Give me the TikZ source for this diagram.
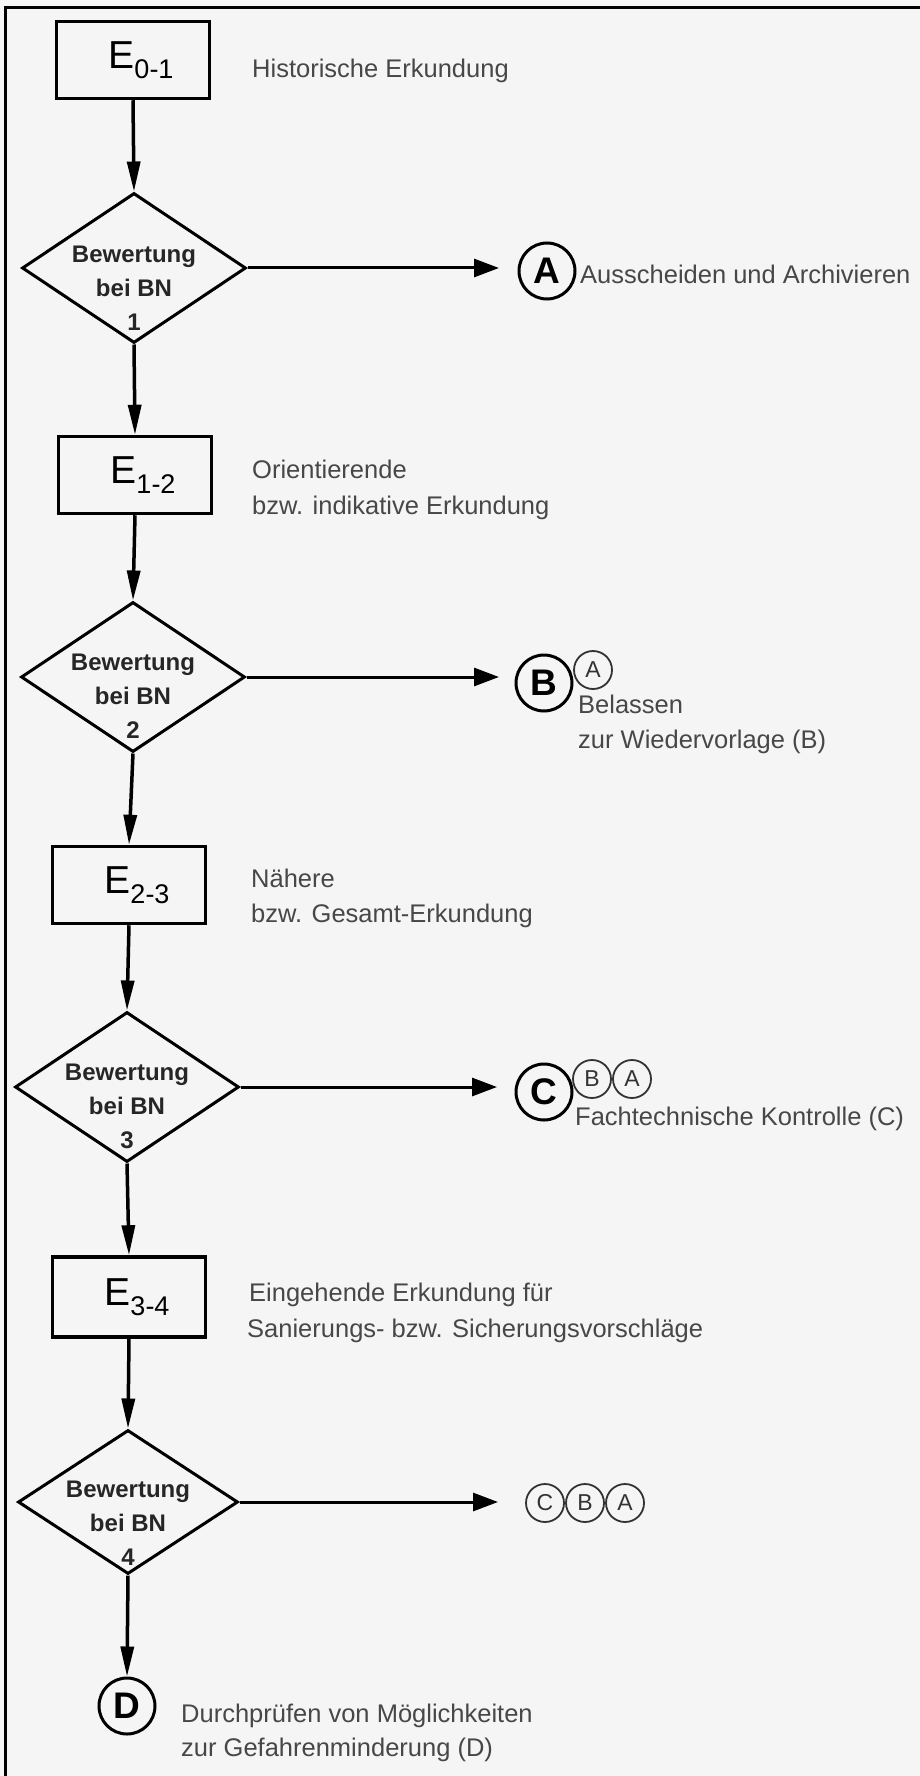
\documentclass[tikz,border=0pt]{standalone}
\usepackage{fontspec}
\setmainfont{Liberation Sans}
\usetikzlibrary{shapes.geometric,arrows.meta}
\newcommand\Elab[1]{{\fontsize{39}{39}\selectfont E}{\fontsize{27}{27}\selectfont\raisebox{-10pt}{#1}}}
\begin{document}
\begin{tikzpicture}[x=1pt,y=-1pt,
  ebox/.style={draw, line width=3.5pt, minimum width=153pt, minimum height=77pt, inner sep=0pt},
  dia/.style={diamond, draw, line width=3pt, minimum width=224pt, minimum height=150pt, inner sep=0pt},
  dtext/.style={align=center, inner sep=0pt, font=\fontsize{24}{34}\selectfont\bfseries, text=black!85},
  vflow/.style={line width=3.5pt, -{Triangle[length=30pt,width=13pt]}},
  hflow/.style={line width=3pt, -{Triangle[length=25pt,width=18pt]}},
  bigc/.style={circle, draw, line width=3pt, minimum size=56pt, inner sep=0pt, font=\fontsize{37}{37}\selectfont\bfseries},
  smallc/.style={circle, draw=black!80, line width=1.8pt, minimum size=38pt, inner sep=0pt, font=\fontsize{23}{23}\selectfont, text=black!80},
  desc/.style={anchor=base west, inner sep=0pt, font=\fontsize{25.5}{25.5}\selectfont, text=black!72}
]
\fill[black!4] (0,0) rectangle (920,1776);
\useasboundingbox (0,0) rectangle (920,1776);
\draw[line width=3pt] (920,8) -- (5,8) -- (5,1776);

% main column
\node[ebox] (e01) at (133,60) {\hspace*{16pt}\Elab{0-1}};
\node[dia] (d1) at (134,268) {};
\node[dtext] (d1t) at (134,288) {Bewertung\\bei BN\\1};
\node[ebox] (e12) at (135,475) {\hspace*{16pt}\Elab{1-2}};
\node[dia] (d2) at (133,677) {};
\node[dtext] (d2t) at (133,696) {Bewertung\\bei BN\\2};
\node[ebox] (e23) at (129,885) {\hspace*{16pt}\Elab{2-3}};
\node[dia] (d3) at (127,1087) {};
\node[dtext] (d3t) at (127,1106) {Bewertung\\bei BN\\3};
\node[ebox, minimum height=80pt] (e34) at (129,1297) {\hspace*{16pt}\Elab{3-4}};
\node[dia, minimum width=220pt, minimum height=144pt] (d4) at (128,1502) {};
\node[dtext] (d4t) at (128,1523) {Bewertung\\bei BN\\4};
\node[bigc] (cd) at (127,1706) {D};

\draw[vflow] (e01.south) -- (d1.north);
\draw[vflow] (d1.south) -- (e12.north);
\draw[vflow] (e12.south) -- (d2.north);
\draw[vflow] (d2.south) -- (e23.north);
\draw[vflow] (e23.south) -- (d3.north);
\draw[vflow] (d3.south) -- (e34.north);
\draw[vflow] (e34.south) -- (d4.north);
\draw[vflow] (d4.south) -- (cd.north);

% side outcomes
\coordinate (t1) at (499,268);
\coordinate (t2) at (499,677);
\coordinate (t3) at (497,1087);
\coordinate (t4) at (498,1502);
\draw[hflow] (d1.east) -- (t1);
\draw[hflow] (d2.east) -- (t2);
\draw[hflow] (d3.east) -- (t3);
\draw[hflow] (d4.east) -- (t4);

\node[bigc] (ca) at (547,271) {A};
\node[desc] (la) at (580,284) {Ausscheiden und Archivieren};

\node[smallc] (b2a) at (593,670) {A};
\node[bigc] (cb) at (544,683) {B};
\node[desc] (lb1) at (578,713) {Belassen};
\node[desc] (lb2) at (578,748) {zur Wiedervorlage (B)};

\node[smallc] (c3b) at (592,1079) {B};
\node[smallc] (c3a) at (632,1079) {A};
\node[bigc] (cc) at (544,1092) {C};
\node[desc] (lc) at (575,1125) {Fachtechnische Kontrolle (C)};

\node[smallc] (c4c) at (545,1503) {C};
\node[smallc] (c4b) at (585,1503) {B};
\node[smallc] (c4a) at (625,1503) {A};

% descriptions
\node[desc] (h1) at (252,78) {Historische Erkundung};
\node[desc] (h2a) at (252,478) {Orientierende};
\node[desc] (h2b) at (252,514) {bzw. indikative Erkundung};
\node[desc] (h3a) at (251,887) {Nähere};
\node[desc] (h3b) at (251,922) {bzw. Gesamt-Erkundung};
\node[desc] (h4a) at (249,1301) {Eingehende Erkundung für};
\node[desc] (h4b) at (247,1337) {Sanierungs- bzw. Sicherungsvorschläge};
\node[desc] (hd1) at (181,1722) {Durchprüfen von Möglichkeiten};
\node[desc] (hd2) at (181,1756) {zur Gefahrenminderung (D)};
\end{tikzpicture}
\end{document}
